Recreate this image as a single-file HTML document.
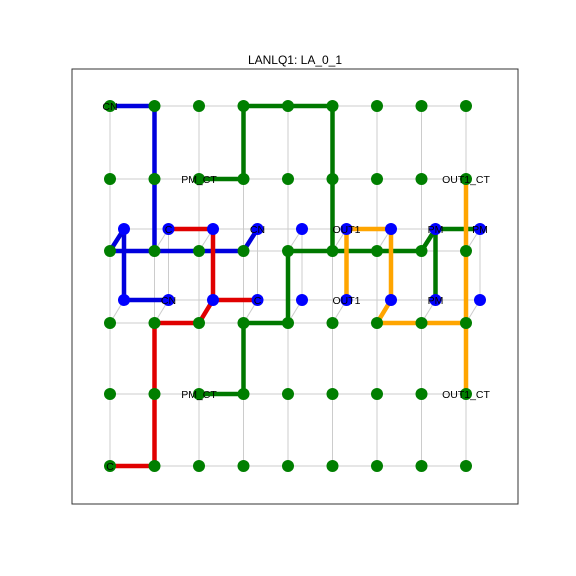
<!DOCTYPE html>
<html><head><meta charset="utf-8"><style>
body{margin:0;background:#fff;}
svg{display:block;font-family:"Liberation Sans","DejaVu Sans",sans-serif;}
</style></head><body>
<svg id="c" width="576" height="576">
<text x="295" y="64" text-anchor="middle" font-size="12">LANLQ1: LA_0_1</text>
<rect x="72" y="69" width="446" height="435" fill="none" stroke="#333" stroke-width="1"/>
</svg>
<script>
// node notation: [layer, col, row]; layer "g" = green grid (rows 0..5), "b" = blue grid (rows 0..1)
const greenCols = 9, greenRows = 6, blueCols = 9, blueRows = 2;
const bluePaths = [
  [["g",0,0],["g",1,0],["g",1,2]],
  [["g",0,2],["g",3,2],["b",3,0]],
  [["g",0,2],["b",0,0],["b",0,1],["b",1,1]]
];
const redPaths = [
  [["b",1,0],["b",2,0],["b",2,1],["b",3,1]],
  [["b",2,1],["g",2,3],["g",1,3],["g",1,5],["g",0,5]]
];
const greenPaths = [
  [["g",2,1],["g",3,1],["g",3,0],["g",5,0],["g",5,2]],
  [["g",4,3],["g",4,2],["g",7,2],["b",7,0],["b",8,0]],
  [["b",7,0],["b",7,1]],
  [["g",3,3],["g",4,3]],
  [["g",3,3],["g",3,4],["g",2,4]]
];
const orangePaths = [
  [["b",5,1],["b",5,0],["b",6,0],["b",6,1],["g",6,3],["g",8,3],["g",8,4]],
  [["g",8,3],["g",8,1]]
];
const labels = [
  [["g",0,0],"CN"],[["g",2,1],"PM_CT"],[["g",8,1],"OUT1_CT"],
  [["b",1,0],"C"],[["b",3,0],"CN"],[["b",5,0],"OUT1"],[["b",7,0],"PM"],[["b",8,0],"PM"],
  [["b",1,1],"CN"],[["b",3,1],"C"],[["b",5,1],"OUT1"],[["b",7,1],"PM"],
  [["g",2,4],"PM_CT"],[["g",8,4],"OUT1_CT"],[["g",0,5],"C"]
];

const gRowY = [106,179,251,323,394,466];
function px(n){
  const [l,c,r]=n;
  if(l==="g") return [110+44.5*c, gRowY[r]];
  return [124+44.5*c, 229+71*r];
}
const svg=document.getElementById('c');
const NS="http://www.w3.org/2000/svg";
function line(a,b,stroke,w,name){
  const e=document.createElementNS(NS,'line');
  e.setAttribute('x1',a[0]);e.setAttribute('y1',a[1]);e.setAttribute('x2',b[0]);e.setAttribute('y2',b[1]);
  e.setAttribute('stroke',stroke);e.setAttribute('stroke-width',w);
  
  
  svg.appendChild(e);
}
// grid lines
for(let r=0;r<greenRows;r++) line(px(["g",0,r]),px(["g",greenCols-1,r]),"#ccc",1,"grid-line");
for(let c=0;c<greenCols;c++) line(px(["g",c,0]),px(["g",c,greenRows-1]),"#ccc",1,"grid-line");
for(let r=0;r<blueRows;r++) line(px(["b",0,r]),px(["b",blueCols-1,r]),"#ccc",1,"grid-line");
for(let c=0;c<blueCols;c++){
  line(px(["b",c,0]),px(["b",c,1]),"#ccc",1,"grid-line");
  line(px(["b",c,0]),px(["g",c,2]),"#ccc",1,"via-line");
  line(px(["b",c,1]),px(["g",c,3]),"#ccc",1,"via-line");
}
function drawPaths(paths,color,name){
  paths.forEach(p=>{
    const e=document.createElementNS(NS,'polyline');
    e.setAttribute('points',p.map(n=>px(n).join(',')).join(' '));
    e.setAttribute('fill','none');e.setAttribute('stroke',color);e.setAttribute('stroke-width',4.5);
    e.setAttribute('stroke-linejoin','round');
    
    
    svg.appendChild(e);
  });
}
drawPaths(bluePaths,"#0000dd","blue-route");
drawPaths(redPaths,"#e00000","red-route");
drawPaths(greenPaths,"#007800","green-route");
drawPaths(orangePaths,"#ffa500","orange-route");
function dot(n,color,name){
  const [x,y]=px(n);
  const e=document.createElementNS(NS,'circle');
  e.setAttribute('cx',x);e.setAttribute('cy',y);e.setAttribute('r',6);e.setAttribute('fill',color);
  
  
  svg.appendChild(e);
}
for(let r=0;r<greenRows;r++)for(let c=0;c<greenCols;c++) dot(["g",c,r],"#007f00","green-node");
for(let r=0;r<blueRows;r++)for(let c=0;c<blueCols;c++) dot(["b",c,r],"#0000ff","blue-node");
labels.forEach(([n,t])=>{
  const [x,y]=px(n);
  const e=document.createElementNS(NS,'text');
  e.setAttribute('x',x);e.setAttribute('y',y+4);e.setAttribute('text-anchor','middle');e.setAttribute('font-size','10.5');
  e.textContent=t;
  
  
  svg.appendChild(e);
});
</script>
</body></html>
